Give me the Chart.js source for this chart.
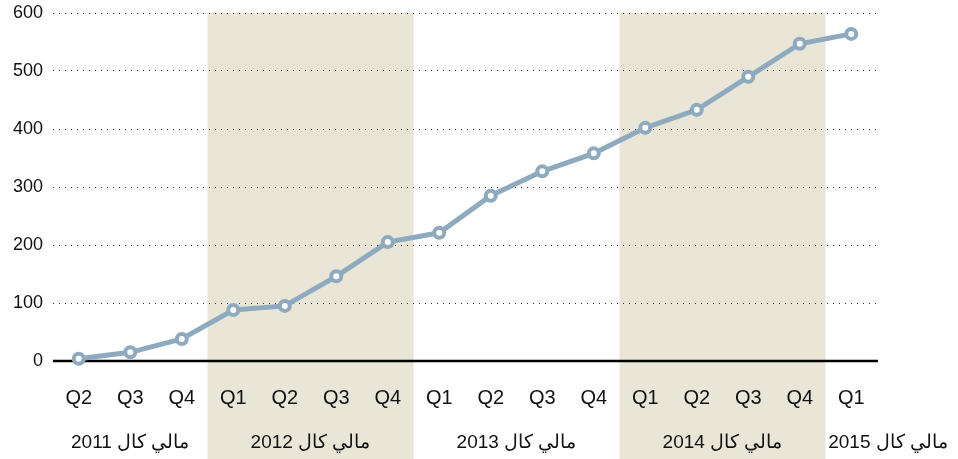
<!DOCTYPE html>
<html>
<head>
<meta charset="utf-8">
<script src="https://cdn.jsdelivr.net/npm/chart.js@4/dist/chart.umd.min.js"></script>
<style>
  html, body { margin: 0; padding: 0; background: #fff; }
  #wrap { width: 958px; height: 459px; }
</style>
</head>
<body>
<div id="wrap"><canvas id="chart"></canvas></div>
<script>
// Quarterly figures, fiscal Q2 2011 .. Q1 2015
var quarters = ['Q2', 'Q3', 'Q4', 'Q1', 'Q2', 'Q3', 'Q4', 'Q1', 'Q2', 'Q3', 'Q4', 'Q1', 'Q2', 'Q3', 'Q4', 'Q1'];
var fiscalYear = [2011, 2011, 2011, 2012, 2012, 2012, 2012, 2013, 2013, 2013, 2013, 2014, 2014, 2014, 2014, 2015];
var values = [4, 15, 38, 88, 95, 146, 205, 221, 285, 327, 358, 402, 433, 490, 547, 564];

var years = [2011, 2012, 2013, 2014, 2015];
var yearLabels = ['مالي كال 2011', 'مالي كال 2012', 'مالي كال 2013', 'مالي كال 2014', 'مالي كال 2015'];
var shadedYears = [2012, 2014];

var yTicks = [0, 100, 200, 300, 400, 500, 600];

var FONT = '"Liberation Sans", Arial, sans-serif';
var LINE = '#8eaabe';
var BAND = '#e9e6d7';

// indexes of the points belonging to one fiscal year
function yearIndexes(y) {
    var out = [];
    fiscalYear.forEach(function (fy, i) { if (fy === y) out.push(i); });
    return out;
}

// shaded fiscal-year bands, running down through the labels
var bands = {
    id: 'bands',
    beforeDraw: function (chart) {
        var ctx = chart.ctx, x = chart.scales.x, area = chart.chartArea;
        var step = x.getPixelForValue(1) - x.getPixelForValue(0);
        ctx.save();
        ctx.fillStyle = BAND;
        shadedYears.forEach(function (y) {
            var idx = yearIndexes(y);
            var x0 = x.getPixelForValue(idx[0]) - step / 2;
            var x1 = x.getPixelForValue(idx[idx.length - 1]) + step / 2;
            ctx.fillRect(x0, area.top, x1 - x0, chart.height - area.top);
        });
        ctx.restore();
    },
    beforeDatasetsDraw: function (chart) {
        // solid baseline at zero
        var ctx = chart.ctx, area = chart.chartArea;
        var y0 = chart.scales.y.getPixelForValue(0);
        ctx.save();
        ctx.strokeStyle = '#000';
        ctx.lineWidth = 2.5;
        ctx.beginPath();
        ctx.moveTo(area.left, y0);
        ctx.lineTo(area.right + 1, y0);
        ctx.stroke();
        ctx.restore();
    },
    afterDraw: function (chart) {
        // fiscal year captions under the quarter labels
        var ctx = chart.ctx, x = chart.scales.x;
        ctx.save();
        ctx.font = '19px ' + FONT;
        ctx.fillStyle = '#111';
        ctx.direction = 'rtl';
        ctx.textAlign = 'center';
        ctx.textBaseline = 'middle';
        years.forEach(function (y, k) {
            var idx = yearIndexes(y);
            var cx = idx.reduce(function (s, i) { return s + x.getPixelForValue(i); }, 0) / idx.length;
            var w = ctx.measureText(yearLabels[k]).width;
            // the unfinished last year is pushed against the right edge
            if (k === years.length - 1) cx = chart.width - 10 - w / 2;
            ctx.fillText(yearLabels[k], cx, 443);
        });
        ctx.restore();
    }
};

new Chart(document.getElementById('chart'), {
    type: 'line',
    data: {
        labels: quarters,
        datasets: [{
            data: values,
            borderColor: LINE,
            borderWidth: 5,
            pointRadius: 5,
            pointHoverRadius: 5,
            pointBorderWidth: 4,
            pointBackgroundColor: '#fff',
            pointBorderColor: LINE,
            tension: 0,
            clip: false
        }]
    },
    options: {
        responsive: true,
        maintainAspectRatio: false,
        animation: false,
        layout: { padding: { top: 13, right: 81, left: 0, bottom: 0 } },
        plugins: { legend: { display: false }, tooltip: { enabled: false } },
        scales: {
            x: {
                offset: true,
                grid: { display: false, drawTicks: false },
                border: { display: false },
                ticks: {
                    font: { family: FONT, size: 20 },
                    color: '#111',
                    padding: 25,
                    maxRotation: 0,
                    autoSkip: false
                },
                afterFit: function (s) { s.height = 98; s.paddingLeft = 0; s.paddingRight = 0; }
            },
            y: {
                min: 0,
                max: 600,
                afterBuildTicks: function (s) {
                    s.ticks = yTicks.map(function (v) { return { value: v }; });
                },
                grid: {
                    color: function (c) { return c.tick && c.tick.value === 0 ? 'rgba(0,0,0,0)' : '#333'; },
                    lineWidth: 1,
                    drawTicks: false
                },
                border: { display: false, dash: [1, 5] },
                ticks: {
                    font: { family: FONT, size: 18 },
                    color: '#111',
                    padding: 10
                },
                afterFit: function (s) { s.width = 53; s.paddingTop = 0; s.paddingBottom = 0; }
            }
        }
    },
    plugins: [bands]
});
</script>
</body>
</html>
